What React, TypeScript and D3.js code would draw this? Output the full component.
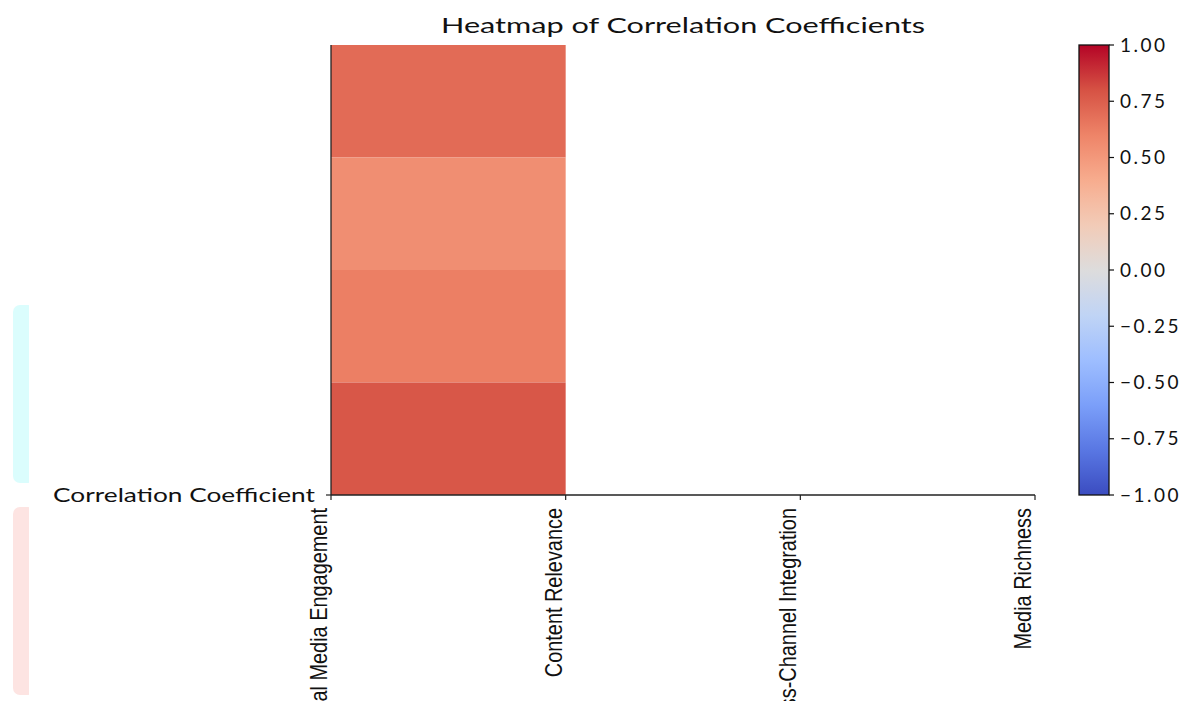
import React from "react";
import * as d3 from "d3";

const xCategories = [
  "Social Media Engagement",
  "Content Relevance",
  "Cross-Channel Integration",
  "Media Richness",
];
const yCategories = ["Correlation Coefficient"];
// values of the four stacked cells, top to bottom
const cellValues = [0.7, 0.55, 0.62, 0.78];
const colorbarTicks = [1, 0.75, 0.5, 0.25, 0, -0.25, -0.5, -0.75, -1];
const coolwarmStops = [
  "#3b4cc0", "#5977e3", "#7b9ff9", "#9ebeff", "#c0d4f5", "#dddcdc",
  "#f2cbb7", "#f7ac8e", "#ee8468", "#d65244", "#b40426",
];
const title = "Heatmap of Correlation Coefficients";

const W = 1186;
const H = 701;
const plot = { left: 331, right: 1035, top: 45, bottom: 495 };
const cbar = { left: 1079, right: 1109, top: 45, bottom: 495 };
const geo = "Lato, 'Open Sans', sans-serif";
const narrow = "'Liberation Sans', Arial, sans-serif";

export default function App() {
  const interp = d3.piecewise(d3.interpolateRgb, coolwarmStops);
  const color = (v: number) => interp((v + 1) / 2);

  const x = d3.scalePoint<string>().domain(xCategories).range([plot.left, plot.right]);
  const rowBand = d3
    .scaleBand<number>()
    .domain(cellValues.map((_, i) => i))
    .range([plot.top, plot.bottom])
    .padding(0);
  const y = d3.scalePoint<string>().domain(yCategories).range([plot.bottom, plot.bottom]);
  const cy = d3.scaleLinear().domain([-1, 1]).range([cbar.bottom, cbar.top]);

  const cellX0 = x(xCategories[0])!;
  const cellX1 = x(xCategories[1])!;

  const gradStops = d3.range(0, 1.0001, 0.05);
  const fmt = (v: number) => d3.format(".2f")(v).replace("-", "\u2212");

  return (
    <svg
      width={W}
      height={H}
      style={{ position: "absolute", left: 0, top: 0, background: "#fff" }}
    >
      <defs>
        <linearGradient id="cw" x1="0" y1="1" x2="0" y2="0">
          {gradStops.map((t) => (
            <stop key={t} offset={t} stopColor={interp(t)} />
          ))}
        </linearGradient>
      </defs>

      {/* leftover legend swatches */}
      <rect x={13} y={305} width={22} height={178} rx={7} fill="#dbfdfd" />
      <rect x={29} y={300} width={10} height={190} fill="#fff" />
      <rect x={13} y={507} width={22} height={188} rx={7} fill="#fde4e2" />
      <rect x={29} y={500} width={10} height={200} fill="#fff" />

      <text
        x={683}
        y={33}
        textAnchor="middle"
        fontFamily={geo}
        fontSize={22}
        textLength={484}
        lengthAdjust="spacingAndGlyphs"
        fill="#111"
      >
        {title}
      </text>

      {cellValues.map((v, i) => (
        <rect
          key={i}
          x={cellX0}
          y={rowBand(i)!}
          width={cellX1 - cellX0}
          height={rowBand.bandwidth()}
          fill={color(v)}
        />
      ))}

      {/* spines */}
      <line x1={plot.left} x2={plot.left} y1={plot.top} y2={plot.bottom} stroke="#222" strokeWidth={1.3} />
      <line x1={plot.left} x2={plot.right} y1={plot.bottom} y2={plot.bottom} stroke="#222" strokeWidth={1.3} />

      {/* y ticks */}
      {yCategories.map((c) => (
        <g key={c}>
          <line x1={plot.left - 5} x2={plot.left} y1={y(c)!} y2={y(c)!} stroke="#222" strokeWidth={1.2} />
          <text
            x={315}
            y={y(c)!}
            dy="0.35em"
            textAnchor="end"
            fontFamily={geo}
            fontSize={20}
            textLength={262}
            lengthAdjust="spacingAndGlyphs"
            fill="#111"
          >
            {c}
          </text>
        </g>
      ))}

      {/* x ticks */}
      {xCategories.map((c) => (
        <g key={c}>
          <line x1={x(c)!} x2={x(c)!} y1={plot.bottom} y2={plot.bottom + 5} stroke="#222" strokeWidth={1.2} />
          <text
            transform={`translate(${x(c)! - 4},${plot.bottom + 13}) rotate(-90) scale(0.865,1)`}
            textAnchor="end"
            fontFamily={narrow}
            fontSize={23}
            fill="#111"
          >
            {c}
          </text>
        </g>
      ))}

      {/* colorbar */}
      <rect
        x={cbar.left}
        y={cbar.top}
        width={cbar.right - cbar.left}
        height={cbar.bottom - cbar.top}
        fill="url(#cw)"
        stroke="#111"
        strokeWidth={1.3}
      />
      {colorbarTicks.map((t) => (
        <g key={t}>
          <line x1={cbar.right} x2={cbar.right + 5} y1={cy(t)} y2={cy(t)} stroke="#111" strokeWidth={1.2} />
          <text
            x={cbar.right + 11}
            y={cy(t)}
            dy="0.35em"
            fontFamily={geo}
            fontSize={19}
            letterSpacing={2.5}
            fill="#111"
          >
            {fmt(t)}
          </text>
        </g>
      ))}
    </svg>
  );
}
